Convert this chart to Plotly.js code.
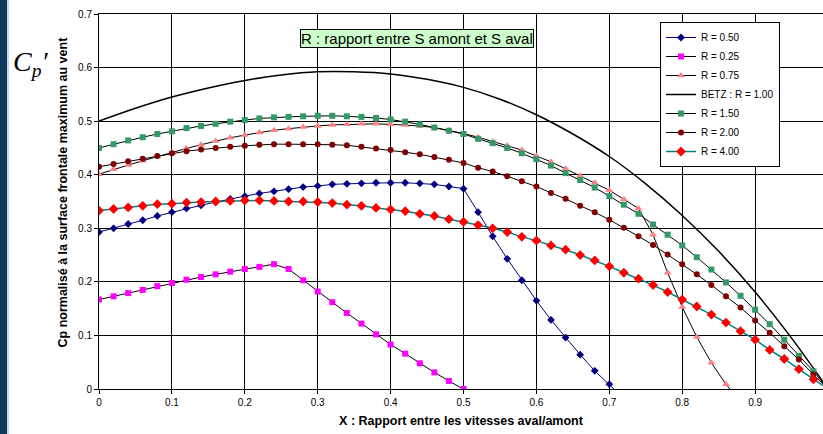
<!DOCTYPE html>
<html><head><meta charset="utf-8">
<script src="https://cdn.plot.ly/plotly-3.0.1.min.js"></script>
<style>html,body{margin:0;padding:0;background:#fff;} #chart{width:823px;height:434px;}</style>
</head><body><div id="chart"></div>
<script>
// X values (ratio of downstream / upstream velocity), step 0.02
const X_ALL = [0,0.02,0.04,0.06,0.08,0.10,0.12,0.14,0.16,0.18,0.20,0.22,0.24,0.26,0.28,0.30,0.32,0.34,0.36,0.38,0.40,0.42,0.44,0.46,0.48,0.50,0.52,0.54,0.56,0.58,0.60,0.62,0.64,0.66,0.68,0.70,0.72,0.74,0.76,0.78,0.80,0.82,0.84,0.86,0.88,0.90,0.92,0.94,0.96,0.98,1.00];

const R050 = [0.293,0.300,0.308,0.315,0.323,0.330,0.337,0.343,0.349,0.355,0.360,0.365,0.369,0.373,0.377,0.379,0.382,0.383,0.384,0.385,0.385,0.385,0.384,0.382,0.378,0.374,0.330,0.285,0.243,0.203,0.165,0.129,0.096,0.064,0.034,0.009,-0.018];
const R025 = [0.167,0.173,0.179,0.185,0.192,0.198,0.204,0.209,0.214,0.219,0.224,0.228,0.233,0.224,0.203,0.182,0.162,0.142,0.122,0.102,0.083,0.066,0.048,0.031,0.015,0.000,-0.016];
const R075 = [0.401,0.410,0.418,0.426,0.434,0.441,0.449,0.456,0.463,0.469,0.474,0.479,0.483,0.486,0.489,0.491,0.493,0.494,0.495,0.495,0.494,0.493,0.491,0.488,0.483,0.477,0.470,0.462,0.454,0.446,0.435,0.424,0.411,0.398,0.385,0.371,0.354,0.337,0.288,0.217,0.153,0.097,0.049,0.009,-0.025];
const BETZ_X = [0,0.05,0.10,0.15,0.20,0.25,0.30,0.35,0.40,0.45,0.50,0.55,0.60,0.65,0.70,0.75,0.80,0.85,0.90,0.95,1.00];
const BETZ = [0.500,0.524,0.545,0.562,0.576,0.586,0.592,0.592,0.588,0.578,0.563,0.541,0.512,0.476,0.434,0.383,0.324,0.257,0.181,0.095,0.000];
const R150 = [0.450,0.457,0.464,0.470,0.476,0.481,0.487,0.491,0.495,0.499,0.502,0.505,0.507,0.508,0.509,0.510,0.510,0.509,0.508,0.506,0.503,0.499,0.494,0.488,0.482,0.476,0.467,0.459,0.450,0.440,0.429,0.417,0.403,0.390,0.376,0.360,0.344,0.327,0.307,0.288,0.268,0.246,0.223,0.199,0.174,0.148,0.121,0.092,0.062,0.033,0.000];
const R200 = [0.415,0.420,0.425,0.430,0.435,0.440,0.444,0.447,0.450,0.452,0.454,0.456,0.457,0.457,0.457,0.457,0.456,0.455,0.452,0.449,0.446,0.442,0.438,0.433,0.428,0.422,0.413,0.406,0.397,0.388,0.378,0.366,0.355,0.342,0.330,0.316,0.301,0.285,0.269,0.251,0.233,0.214,0.194,0.173,0.152,0.128,0.105,0.080,0.055,0.027,0.000];
const R400 = [0.333,0.336,0.339,0.342,0.345,0.346,0.348,0.349,0.350,0.351,0.352,0.352,0.351,0.350,0.350,0.349,0.347,0.344,0.342,0.338,0.335,0.332,0.327,0.323,0.317,0.312,0.306,0.300,0.293,0.284,0.277,0.268,0.260,0.250,0.240,0.229,0.217,0.206,0.194,0.181,0.167,0.154,0.139,0.124,0.108,0.092,0.073,0.056,0.037,0.018,0.000];

const NAMES = ['R = 0.50','R = 0.25','R = 0.75','BETZ : R = 1.00','R = 1.50','R = 2.00','R = 4.00'];
const TICK_X = [0,0.1,0.2,0.3,0.4,0.5,0.6,0.7,0.8,0.9];
const TICK_X_TEXT = ['0','0.1','0.2','0.3','0.4','0.5','0.6','0.7','0.8','0.9'];
const TICK_Y = [0,0.1,0.2,0.3,0.4,0.5,0.6,0.7];
const TICK_Y_TEXT = ['0','0.1','0.2','0.3','0.4','0.5','0.6','0.7'];

const xs = n => X_ALL.slice(0, n);

// layout geometry (pixels)
const W = 823, H = 434, ML = 99, MR = 0, MT = 14, MB = 45;
const PW = W - ML - MR, PH = H - MT - MB;
const px = p => (p - ML) / PW;
const py = p => (H - MB - p) / PH;

const FONT = 'Liberation Sans, Arial, sans-serif';

const traces = [
  {x: xs(R050.length), y: R050, name: NAMES[0], mode: 'lines+markers',
   line: {color: '#000080', width: 1}, marker: {symbol: 'diamond', size: 6, color: '#000080'}},
  {x: xs(R025.length), y: R025, name: NAMES[1], mode: 'lines+markers',
   line: {color: '#000000', width: 1}, marker: {symbol: 'square', size: 6, color: '#FF00FF'}},
  {x: xs(R075.length), y: R075, name: NAMES[2], mode: 'lines+markers',
   line: {color: '#000000', width: 1}, marker: {symbol: 'triangle-up', size: 7, color: '#FF8080'}},
  {x: BETZ_X, y: BETZ, name: NAMES[3], mode: 'lines',
   line: {color: '#000000', width: 1.5, shape: 'spline'}},
  {x: xs(R150.length), y: R150, name: NAMES[4], mode: 'lines+markers',
   line: {color: '#000000', width: 1}, marker: {symbol: 'square', size: 6, color: '#339966'}},
  {x: xs(R200.length), y: R200, name: NAMES[5], mode: 'lines+markers',
   line: {color: '#000000', width: 1}, marker: {symbol: 'circle', size: 6, color: '#800000'}},
  {x: xs(R400.length), y: R400, name: NAMES[6], mode: 'lines+markers',
   line: {color: '#008080', width: 1.5}, marker: {symbol: 'diamond', size: 7.5, color: '#FF0000'}}
];

const layout = {
  width: W, height: H,
  margin: {l: ML, r: MR, t: MT, b: MB, pad: 0},
  paper_bgcolor: '#ffffff', plot_bgcolor: '#ffffff',
  font: {family: FONT, size: 10, color: '#000'},
  showlegend: true,
  legend: {x: px(660), y: py(22), xanchor: 'left', yanchor: 'top',
           bgcolor: '#ffffff', bordercolor: '#000000', borderwidth: 1,
           font: {family: FONT, size: 10, color: '#000'}, itemwidth: 30, tracegroupgap: 0},
  xaxis: {range: [0, 0.9931], tickvals: TICK_X, ticktext: TICK_X_TEXT,
          showgrid: true, gridcolor: '#000000', gridwidth: 1, zeroline: false,
          showline: true, linecolor: '#000000', linewidth: 1, mirror: true,
          ticks: 'outside', ticklen: 4, tickcolor: '#000', automargin: false,
          tickfont: {family: FONT, size: 10, color: '#000'},
          title: {text: '<b>X : Rapport entre les vitesses aval/amont</b>', standoff: 9,
                  font: {family: FONT, size: 12.5, color: '#000'}}},
  yaxis: {range: [0, 0.7], tickvals: TICK_Y, ticktext: TICK_Y_TEXT,
          showgrid: true, gridcolor: '#000000', gridwidth: 1, zeroline: false,
          showline: true, linecolor: '#000000', linewidth: 1,
          ticks: 'outside', ticklen: 4, tickcolor: '#000', automargin: false,
          tickfont: {family: FONT, size: 10, color: '#000'}},
  shapes: [
    {type: 'rect', xref: 'paper', yref: 'paper', x0: px(0), x1: px(7), y0: py(H), y1: py(0),
     fillcolor: '#0f3a5c', line: {width: 0}, layer: 'above'},
    {type: 'rect', xref: 'paper', yref: 'paper', x0: px(7), x1: px(9), y0: py(H), y1: py(0),
     fillcolor: '#c9d5e0', line: {width: 0}, layer: 'above'}
  ],
  annotations: [
    {xref: 'paper', yref: 'paper', x: px(62.5), y: py(192), xanchor: 'center', yanchor: 'middle',
     text: '<b>Cp normalisé à la surface frontale maximum au vent</b>', textangle: -90, showarrow: false,
     font: {family: FONT, size: 12.5, color: '#000'}},
    {xref: 'paper', yref: 'paper', x: px(417), y: py(39), xanchor: 'center', yanchor: 'middle',
     text: 'R : rapport entre S amont et S aval', showarrow: false,
     font: {family: FONT, size: 15, color: '#000'},
     bgcolor: '#CCFFCC', bordercolor: '#000000', borderwidth: 1, borderpad: 0},
    {xref: 'paper', yref: 'paper', x: px(11), y: py(44), xanchor: 'left', yanchor: 'top',
     text: '<i>C<sub>p</sub>′</i>', showarrow: false,
     font: {family: 'Liberation Serif, Times New Roman, serif', size: 28, color: '#000'}}
  ]
};

Plotly.newPlot('chart', traces, layout, {displayModeBar: false, staticPlot: true});
</script></body></html>
